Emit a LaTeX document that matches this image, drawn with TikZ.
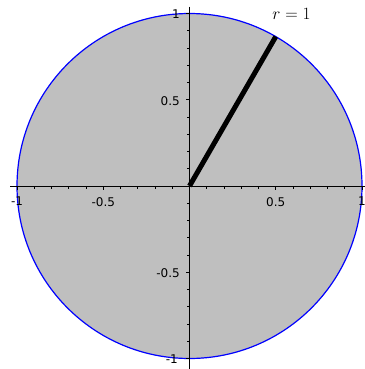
\documentclass[tikz,border=0pt]{standalone}
\usepackage{fontspec}
\newfontfamily\tickfont{DejaVu Sans}
\definecolor{disk}{RGB}{191,191,191}
\begin{document}
\begin{tikzpicture}[x=1pt,y=1pt,
  ticklab/.style={font=\tickfont\fontsize{12}{14}\selectfont, inner sep=0pt, text=black},
  axisline/.style={line width=1pt, black},
  tickmark/.style={line width=0.8pt, black},
  radius line/.style={line width=5pt, black, line cap=butt},
  rimline/.style={blue, line width=1.2pt}]
\useasboundingbox (0,0) rectangle (364,-369);
\begin{scope}[shift={(189.5,-186)}, x=172.5pt, y=172.5pt]
  \coordinate (O) at (0,0);
  \coordinate (P) at (60:1);
  \fill[disk] (O) circle[radius=1];
  \draw[rimline] (O) circle[radius=1];
  % axes
  \coordinate (xa) at (-1.04,0);
  \coordinate (xb) at (1.06,0);
  \coordinate (ya) at (0,1.04);
  \coordinate (yb) at (0,-1.1);
  \draw[axisline] (xa) -- (xb);
  \draw[axisline] (ya) -- (yb);
  % ticks
  \foreach \i in {-10,...,10}{
    \pgfmathsetmacro{\t}{\i/10}
    \pgfmathsetmacro{\len}{(mod(abs(\i),5)==0) ? 4 : 2.8}
    \draw[tickmark] (\t,0) -- ++(0,-\len pt);
    \draw[tickmark] (0,\t) -- ++(-\len pt,0);
  }
  % x tick labels
  \node[ticklab, anchor=north, yshift=-11pt] (xlm1) at (-1,0) {-1};
  \node[ticklab, anchor=north, yshift=-11pt] (xlm05) at (-0.5,0) {-0.5};
  \node[ticklab, anchor=north, yshift=-11pt] (xl05) at (0.5,0) {0.5};
  \node[ticklab, anchor=north, yshift=-11pt] (xl1) at (1,0) {1};
  % y tick labels
  \node[ticklab, anchor=east, xshift=-9.5pt, yshift=-1pt] (yl1) at (0,1) {1};
  \node[ticklab, anchor=east, xshift=-9.5pt, yshift=-1pt] (yl05) at (0,0.5) {0.5};
  \node[ticklab, anchor=east, xshift=-9.5pt, yshift=-1pt] (ylm05) at (0,-0.5) {-0.5};
  \node[ticklab, anchor=east, xshift=-11.5pt, yshift=-1pt] (ylm1) at (0,-1) {-1};
  % radius
  \draw[radius line] (O) -- (P);
\end{scope}
\node[font=\fontsize{17}{20}\selectfont, anchor=base, inner sep=0pt] (rlab) at (291.5,-20) {$r=1$};
\end{tikzpicture}
\end{document}
